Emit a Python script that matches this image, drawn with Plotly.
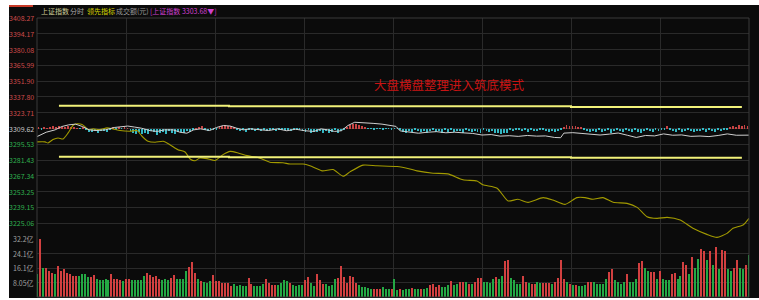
import plotly.graph_objects as go

# ---------------- data ----------------
price_ticks = [3225.06, 3239.15, 3253.25, 3267.34, 3281.43, 3295.53, 3309.62,
               3323.71, 3337.80, 3351.90, 3365.99, 3380.08, 3394.17, 3408.27]
price_labels = ["3225.06", "3239.15", "3253.25", "3267.34", "3281.43", "3295.53", "3309.62",
                "3323.71", "3337.80", "3351.90", "3365.99", "3380.08", "3394.17", "3408.27"]
price_min, price_max = 3210.97, 3408.27
prev_close = 3309.62

vol_ticks = [8.05, 16.1, 24.15, 32.2]
vol_labels = ["8.05亿", "16.1亿", "24.1亿", "32.2亿"]

time_grid = [30, 60, 90, 120, 150, 180, 210]

# 上证指数 (white line): minutes since 9:30, index value
white_minutes = [0, 3.1, 6.1, 8.4, 10.7, 13.0, 15.3, 17.6, 19.9, 23.0,
                 26.0, 29.1, 30.6, 32.9, 35.2, 38.3, 40.6, 42.9, 45.9, 48.2,
                 50.5, 52.8, 55.1, 58.2, 60.5, 62.8, 65.1, 67.3, 69.6, 71.9,
                 75.0, 78.1, 81.1, 84.2, 87.2, 90.3, 93.4, 95.7, 98.0, 100.3,
                 102.6, 104.8, 107.1, 109.4, 113.3, 116.3, 119.4, 121.0, 122.4, 125.5,
                 128.6, 131.6, 134.7, 137.8, 140.8, 143.9, 146.9, 150.0, 153.1, 156.1,
                 159.2, 162.2, 165.3, 168.4, 171.4, 174.5, 176.5, 177.6, 180.6, 183.7,
                 186.7, 189.8, 192.9, 195.9, 199.0, 202.0, 205.1, 208.2, 211.2, 214.3,
                 217.3, 220.4, 223.5, 226.5, 229.6, 232.7, 235.7, 240]
white_values = [3302.4, 3306.3, 3308.4, 3311.4, 3312.9, 3313.5, 3311.4, 3308.4, 3307.8, 3308.4,
                3310.5, 3311.4, 3311.8, 3310.9, 3309.9, 3307.6, 3307.0, 3308.4, 3308.4, 3306.3,
                3305.4, 3308.4, 3309.3, 3307.8, 3310.5, 3312.3, 3311.8, 3309.9, 3308.4, 3309.3,
                3308.4, 3307.8, 3309.3, 3307.6, 3309.0, 3307.6, 3307.0, 3309.3, 3308.4, 3307.0,
                3307.6, 3312.3, 3315.2, 3315.0, 3314.2, 3313.5, 3312.3, 3311.5, 3307.5, 3306.5,
                3305.4, 3306.3, 3306.8, 3305.8, 3306.3, 3305.7, 3305.2, 3303.8, 3304.2, 3302.8,
                3303.2, 3302.6, 3303.4, 3302.8, 3303.0, 3301.6, 3301.4, 3305.5, 3305.9, 3305.2,
                3304.2, 3303.8, 3304.6, 3305.6, 3303.6, 3301.6, 3303.4, 3303.0, 3304.8, 3303.6,
                3303.9, 3302.6, 3302.9, 3302.4, 3303.4, 3304.8, 3303.6, 3303.68]

# 领先指标 (olive line)
lead_minutes = [0, 2.7, 3.7, 5.4, 7.1, 8.8, 10.5, 12.1, 13.5, 15.2,
                16.2, 17.2, 18.9, 21.2, 23.6, 25.6, 28.0, 31.4, 33.7, 35.4,
                37.4, 39.8, 42.5, 44.8, 47.5, 49.9, 51.6, 53.3, 54.9, 57.3,
                60.0, 62.7, 65.1, 67.8, 70.8, 74.2, 76.2, 78.5, 82.9, 85.3,
                89.7, 92.0, 96.1, 99.8, 103.2, 105.5, 109.9, 114.6, 121.4, 125.7,
                128.1, 133.5, 138.5, 143.6, 148.3, 150.3, 155.1, 158.8, 162.1, 165.5,
                170.6, 173.9, 178.0, 182.0, 184.7, 187.4, 190.8, 194.2, 198.9, 202.3,
                205.6, 209.0, 212.4, 216.8, 221.1, 225.8, 229.2, 232.6, 234.6, 238.0, 240]
lead_values = [3297.7, 3297.7, 3296.7, 3299.8, 3301.2, 3300.3, 3305.7, 3312.3, 3313.8, 3313.2,
               3311.1, 3308.7, 3309.3, 3308.7, 3310.2, 3309.3, 3307.8, 3307.2, 3307.8, 3302.7,
               3298.2, 3297.3, 3298.2, 3295.2, 3290.7, 3288.7, 3282.4, 3280.8, 3283.3, 3282.7,
               3281.1, 3286.3, 3289.2, 3287.8, 3285.4, 3283.9, 3282.0, 3279.5, 3279.0, 3277.9,
               3277.9, 3276.3, 3271.8, 3273.0, 3267.0, 3270.9, 3276.9, 3276.3, 3275.7, 3273.5,
               3271.8, 3269.7, 3269.1, 3263.8, 3262.8, 3259.3, 3256.3, 3244.9, 3246.4, 3243.7,
               3247.9, 3245.8, 3241.9, 3247.9, 3247.9, 3246.4, 3247.9, 3243.7, 3242.8, 3239.2,
               3230.9, 3229.4, 3230.3, 3227.9, 3220.5, 3215.1, 3212.4, 3216.0, 3220.5, 3223.5, 3229.4]

# buying/selling force histogram around previous close (per minute)
force_values = (
    [0.5, -0.8, 0.6, 0.3]
    + [1.2, 1.8, 1.5, 2.2, 1.0, 1.6, 2.0, 1.3, 0.8]
    + [0.4, -0.3, 0.5]
    + [-1.5, -2.8, -3.5, -2.2, -3.8, -2.5, -1.8, -3.0, -1.2]
    + [0.5, -0.6, 0.8, -0.4, 0.6, 0.3]
    + [-2.5, -3.8, -4.5, -2.8, -5.2, -3.6, -4.8, -2.2, -3.5, -5.8, -4.1, -3.0, -4.6, -2.4, -3.9,
       -5.0, -2.7, -3.3, -4.2, -2.0, -3.1]
    + [-0.5, 0.4]
    + [1.5, 2.0]
    + [-1.2, -2.0, -0.8, -1.5, -1.0]
    + [1.2, 2.5, 3.0, 2.2, 1.8, 1.0]
    + [-1.0, -2.2, -1.5, -2.8, -1.2, -0.8, -2.0, -1.6, -2.5, -1.0, -1.8, -0.6, -1.4, -2.2, -1.1]
    + [-0.8, -1.5, -1.0, -2.0, -0.6, -1.3, -0.9]
    + [-2.0, -3.5, -1.5, -4.0, -2.8, -3.2, -1.8, -3.8, -2.5, -4.2, -3.0, -1.6, -3.6, -2.2, -1.0]
    + [1.5, 2.8, 3.8, 4.2, 3.0, 2.0, 1.0]
    + [-0.4, -0.3, -0.5, -0.3, -0.4, -0.5, -0.3, -0.4, -0.5, -0.3, -0.4]
    + [-1.5, -2.8, -3.8, -2.0, -3.2, -1.2, -2.6, -3.5, -1.8, -4.0, -2.4, -1.5, -3.0, -2.2, -3.8,
       -1.6, -2.8, -1.0, -3.4, -2.0, -2.6, -3.9, -1.4, -2.3, -3.1, -1.8, -2.7, -3.6, -1.2, -2.5,
       -3.3, -2.0, -3.8, -4.2]
    + [-4.5, -3.8, -4.2]
    + [-1.0, -2.5, -1.5, -0.8, -2.2, -1.2, -2.8, -0.6, -1.8, -2.4, -1.0, -1.6, -2.6, -3.0, -2.0,
       -3.2, -2.5, -1.5]
    + [1.5, 3.0, 2.2, 2.6, 1.8, 1.2, 0.6]
    + [-1.2, -2.5, -3.5, -1.8, -2.8, -1.0, -3.2, -2.0, -1.5, -3.8, -2.4, -1.2, -2.6, -3.4, -1.6,
       -2.2, -3.0, -1.4, -2.8, -3.6, -1.8, -1.0, -2.4, -3.2, -1.5, -2.0, -0.8, -1.2]
    + [2.2]
    + [-1.0, -2.0, -2.8, -1.5, -3.0, -2.2, -1.2, -2.6, -3.2, -1.8, -2.4, -1.0, -2.8, -1.6, -2.0,
       -3.0, -1.4, -2.2, -0.8, -1.2]
    + [1.2, 2.5, 1.5, 2.8, 2.0, 3.0, 2.5]
)

# 成交额 (亿) per minute and direction (1 = up/red, 0 = down/green)
volume_values = [
    12.5, 32.2, 16.2, 16.2, 14.4, 13.4, 12.9, 17.1, 14.7, 15.3,
    13.4, 12.5, 11.6, 11.6, 11.6, 12.5, 12.5, 11.0, 11.0, 12.2,
    10.1, 9.4, 9.2, 9.8, 9.2, 12.9, 9.8, 9.8, 9.4, 8.8,
    9.8, 9.8, 9.2, 9.2, 9.2, 9.2, 11.6, 13.1, 12.0, 11.2,
    11.6, 9.8, 9.4, 9.8, 9.4, 10.7, 12.0, 10.1, 10.1, 9.8,
    14.4, 16.8, 19.3, 13.4, 9.8, 8.8, 8.5, 7.9, 8.8, 12.0,
    8.8, 8.8, 7.9, 7.6, 7.6, 6.1, 7.0, 6.1, 6.4, 6.1,
    6.1, 10.3, 7.0, 6.1, 6.1, 6.1, 7.0, 9.8, 7.9, 6.4,
    6.4,
    6.4, 7.6, 9.2, 8.8, 7.6, 6.4, 6.1, 6.4, 6.6, 9.2,
    11.0, 7.9, 6.1, 12.9, 9.2, 7.4, 7.0, 6.1, 6.4, 9.8,
    10.3, 17.1, 11.0, 7.9, 11.6, 11.0, 7.6, 6.6, 5.5, 5.5,
    5.2, 4.6, 4.6, 4.6, 4.2, 5.5, 4.2, 4.2, 4.2, 10.1,
    3.7, 4.2, 3.7, 4.2, 4.6, 5.2, 4.6, 4.6, 4.6, 4.6,
    5.2, 6.4, 7.0, 5.7, 6.4, 5.7, 5.7, 6.4, 8.8, 6.4,
    7.0, 8.5, 8.5, 8.5, 7.4, 7.4, 8.5, 10.7, 10.3, 8.5,
    8.5, 7.9, 9.8, 11.2, 9.8, 11.6, 19.9, 20.8, 10.7, 9.2,
    7.4, 7.4, 11.6, 8.5, 7.9,
    7.4, 7.0, 8.3, 7.9, 7.9, 7.9, 7.9, 7.0, 8.3, 10.7,
    20.8, 10.1, 8.3, 7.4, 6.6, 6.4, 6.1, 6.1, 6.6, 8.5,
    8.5, 8.5, 7.0, 7.0, 7.0, 9.8, 13.8, 15.7, 9.2, 8.5,
    7.4, 8.5, 12.5, 8.5, 8.5, 10.1, 19.0, 19.9, 16.2, 14.4,
    13.8, 13.8, 9.8, 14.4, 10.1, 9.4, 9.2, 12.9, 13.4, 10.1,
    11.6, 19.3, 18.0, 12.9, 22.1, 16.2, 21.2, 26.9, 25.8, 20.3,
    25.4, 18.0, 27.8, 15.7, 26.3, 25.4, 15.7, 14.7, 16.2, 20.8,
    16.2, 15.3, 17.5, 23.2,
]
volume_up = [
    0, 1, 0, 1, 1, 1, 0, 1, 1, 1,
    1, 1, 1, 1, 0, 0, 0, 0, 1, 1,
    0, 0, 0, 0, 0, 1, 1, 1, 1, 0,
    1, 1, 0, 0, 0, 0, 0, 1, 1, 1,
    1, 1, 0, 0, 0, 1, 1, 0, 0, 0,
    0, 1, 1, 1, 0, 1, 0, 0, 0, 1,
    1, 1, 1, 1, 1, 1, 0, 0, 0, 0,
    0, 1, 1, 0, 0, 0, 0, 1, 1, 1,
    1,
    0, 0, 0, 0, 1, 0, 0, 0, 0, 1,
    1, 0, 0, 1, 1, 1, 0, 0, 0, 0,
    1, 1, 1, 1, 1, 1, 1, 0, 0, 0,
    0, 0, 1, 1, 1, 0, 0, 0, 1, 0,
    0, 1, 0, 0, 0, 1, 0, 0, 1, 0,
    0, 1, 1, 1, 1, 0, 0, 0, 1, 0,
    0, 1, 1, 0, 1, 0, 1, 1, 1, 0,
    0, 0, 0, 1, 0, 0, 1, 1, 0, 0,
    0, 0, 1, 1, 0,
    1, 1, 0, 0, 1, 1, 1, 0, 1, 1,
    1, 1, 0, 1, 0, 1, 0, 0, 0, 1,
    1, 0, 0, 0, 0, 0, 1, 1, 0, 0,
    0, 0, 1, 0, 0, 0, 1, 1, 0, 0,
    1, 1, 0, 1, 0, 0, 0, 1, 1, 0,
    0, 1, 1, 0, 1, 0, 0, 1, 1, 0,
    1, 0, 1, 0, 1, 1, 0, 0, 1, 1,
    0, 0, 1, 0,
]

# hand-drawn support / resistance lines (start, step, step, end minutes)
trend_minutes = [7.4, 64.7, 180.0, 237.6]
upper_line = [3330.0, 3329.4, 3328.8, 3328.8]
lower_line = [3284.4, 3284.0, 3283.5, 3283.5]

note_text = "大盘横盘整理进入筑底模式"
note_minute, note_price = 139.0, 3348.5

# ---------------- layout helpers ----------------
W, H = 759, 300
ML, MR, MT, MB = 37, 10, 18, 3
PW = W - ML - MR
PH = H - MT - MB


def px2x(px):
    return (px - ML) / PW


def py2y(py):
    return (H - MB - py) / PH


split = py2y(239)
n_vol = len(volume_values)
bar_x = [i * 240 / (n_vol - 1) for i in range(n_vol)]
force_x = [i + 0.5 for i in range(len(force_values))]

BG = "#0b0b0b"
GRID = "#2a2a2a"
RED = "#d24040"
GREEN = "#24a844"
CYAN = "#34b8c4"
FONT = "Noto Sans CJK SC"

fig = go.Figure()

# volume bars
for up, col in ((1, RED), (0, GREEN)):
    xs = [bar_x[i] for i in range(n_vol) if volume_up[i] == up]
    ys = [volume_values[i] for i in range(n_vol) if volume_up[i] == up]
    fig.add_trace(go.Bar(x=xs, y=ys, marker=dict(color=col, line=dict(width=0)),
                         width=0.34, xaxis="x", yaxis="y2", showlegend=False))

# force histogram
for pos, col in ((True, "#c84444"), (False, CYAN)):
    xs = [force_x[i] for i, v in enumerate(force_values) if (v > 0) == pos]
    ys = [v for v in force_values if (v > 0) == pos]
    fig.add_trace(go.Bar(x=xs, y=ys, base=prev_close,
                         marker=dict(color=col, line=dict(width=0)),
                         width=0.3, xaxis="x", yaxis="y", showlegend=False))

# lead line
fig.add_trace(go.Scatter(x=lead_minutes, y=lead_values, mode="lines",
                         line=dict(color="#a29a00", width=1.1, shape="spline", smoothing=0.6),
                         xaxis="x", yaxis="y", showlegend=False))
# index line
fig.add_trace(go.Scatter(x=white_minutes, y=white_values, mode="lines",
                         line=dict(color="#cfcfcf", width=1),
                         xaxis="x", yaxis="y", showlegend=False))
# drawn lines
for ys in (upper_line, lower_line):
    fig.add_trace(go.Scatter(x=trend_minutes, y=ys, mode="lines",
                             line=dict(color="#f2f27a", width=2, shape="hv"),
                             xaxis="x", yaxis="y", showlegend=False))

annotations = []
for v, lab in zip(price_ticks, price_labels):
    if v > prev_close:
        col = "#cc4a4a"
    elif v < prev_close:
        col = "#2fae4e"
    else:
        col = "#c8c8c8"
    annotations.append(dict(x=px2x(36), xref="paper", y=v, yref="y", text=lab,
                            showarrow=False, xanchor="right", yanchor="middle",
                            font=dict(family=FONT, size=7, color=col)))
for v, lab in zip(vol_ticks, vol_labels):
    annotations.append(dict(x=px2x(36), xref="paper", y=v, yref="y2", text=lab,
                            showarrow=False, xanchor="right", yanchor="middle",
                            font=dict(family=FONT, size=7, color="#a0a0a0")))

header = [(39, "上证指数", "#cfcf9a"), (68, "分时", "#a8a8a8"), (85, "领先指标", "#d8d800"),
          (114, "成交额(元)", "#9a9a9a"), (148, "[上证指数 3303.68▼]", "#d040d0")]
for px, txt, col in header:
    annotations.append(dict(x=px2x(px), xref="paper", y=py2y(11.5), yref="paper", text=txt,
                            showarrow=False, xanchor="left", yanchor="middle",
                            font=dict(family=FONT, size=7, color=col)))

annotations.append(dict(x=note_minute, xref="x", y=note_price, yref="y", text=note_text,
                        showarrow=False, xanchor="center", yanchor="middle",
                        font=dict(family=FONT, size=12.5, color="#c81414")))

shapes = [
    # previous close line
    dict(type="line", xref="paper", yref="y", x0=0, x1=1, y0=prev_close, y1=prev_close,
         line=dict(color="#3c3c3c", width=1), layer="below"),
    # frame
    dict(type="rect", xref="paper", yref="paper", x0=0, x1=1, y0=0, y1=1,
         line=dict(color="#3a3a3a", width=1)),
    # outer white border strips
    dict(type="rect", xref="paper", yref="paper", x0=px2x(0), x1=px2x(9), y0=py2y(300), y1=py2y(0),
         line=dict(width=0), fillcolor="white"),
    dict(type="rect", xref="paper", yref="paper", x0=px2x(0), x1=px2x(759), y0=py2y(5), y1=py2y(0),
         line=dict(width=0), fillcolor="white"),
    dict(type="rect", xref="paper", yref="paper", x0=px2x(0), x1=px2x(759), y0=py2y(300), y1=py2y(298),
         line=dict(width=0), fillcolor="white"),
    # tab marker
    dict(type="rect", xref="paper", yref="paper", x0=px2x(9), x1=px2x(33), y0=py2y(7), y1=py2y(5),
         line=dict(width=0), fillcolor="#c83a28"),
]

fig.update_layout(
    width=W, height=H,
    margin=dict(l=ML, r=MR, t=MT, b=MB),
    paper_bgcolor=BG, plot_bgcolor=BG,
    barmode="overlay", bargap=0,
    showlegend=False,
    xaxis=dict(range=[0, 240], tickvals=time_grid, showticklabels=False, showgrid=True,
               gridcolor=GRID, gridwidth=1, zeroline=False, showline=False, anchor="y2",
               fixedrange=True),
    yaxis=dict(domain=[split, 1], range=[price_min, price_max], tickvals=price_ticks,
               showticklabels=False, showgrid=True, gridcolor=GRID, zeroline=False,
               showline=False, anchor="x"),
    yaxis2=dict(domain=[0, split], range=[0, 32.2], tickvals=vol_ticks, showticklabels=False,
                showgrid=True, gridcolor=GRID, zeroline=False, showline=False, anchor="x"),
    annotations=annotations,
    shapes=shapes,
)

fig.write_html("out.html")
